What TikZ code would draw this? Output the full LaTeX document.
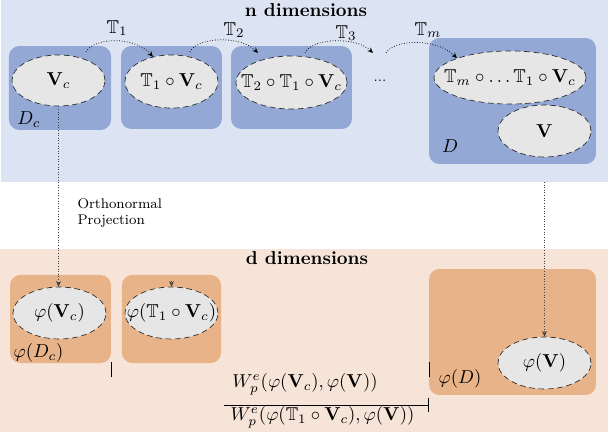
\documentclass[tikz,border=0pt]{standalone}
\usepackage{amsmath,amssymb}
\usetikzlibrary{shapes.geometric,arrows.meta,calc}
\definecolor{bandblue}{HTML}{DCE3F2}
\definecolor{boxblue}{HTML}{94A8D6}
\definecolor{ellgray}{HTML}{E6E6E6}
\definecolor{bandpeach}{HTML}{F6E4D8}
\definecolor{boxorange}{HTML}{E8B388}
\begin{document}
\begin{tikzpicture}[x=0.535pt,y=0.535pt,
  bluebox/.style={rectangle, rounded corners=5.5pt, fill=boxblue, inner sep=0pt},
  orangebox/.style={rectangle, rounded corners=5.5pt, fill=boxorange, inner sep=0pt},
  ell/.style={ellipse, fill=ellgray, draw=black!85, densely dashed, line width=0.35pt, inner sep=0pt},
  tarrow/.style={densely dotted, line width=0.4pt, -{Stealth[length=3pt,width=2.6pt]}},
  proj/.style={densely dotted, line width=0.4pt, draw=black!75, -{Stealth[length=3pt,width=2.6pt]}},
  tick/.style={line width=0.5pt},
  small/.style={font=\fontsize{7.5}{9}\selectfont},
  tight/.style={inner sep=0.5pt}
]
\useasboundingbox (0,0) rectangle (610,432);
\fill[bandblue] (1,250) rectangle (608,432);
\fill[bandpeach] (0,0) rectangle (608,183);

% titles
\node[anchor=base, font=\bfseries] (tn) at (306,415) {n dimensions};
\node[anchor=base, font=\bfseries] (td) at (307,168) {d dimensions};

% n-dimensional boxes
\node[bluebox, minimum width=54.6pt, minimum height=44.9pt] (b1) at (60,344) {};
\node[bluebox, minimum width=54pt, minimum height=44.4pt] (b2) at (171.5,344.5) {};
\node[bluebox, minimum width=64.7pt, minimum height=44.4pt] (b3) at (291.5,344.5) {};
\node[bluebox, minimum width=89.3pt, minimum height=67.4pt] (b4) at (512.5,331) {};

\node[ell, minimum width=49.8pt, minimum height=27.3pt, label={center:$\mathbf{V}_c$}] (e1) at (58.5,351.5) {};
\node[ell, minimum width=49.8pt, minimum height=28.4pt, label={center:$\mathbb{T}_1\circ\mathbf{V}_c$}] (e2) at (171.5,350.5) {};
\node[ell, minimum width=59.4pt, minimum height=28.4pt, label={center:$\mathbb{T}_2\circ\mathbb{T}_1\circ\mathbf{V}_c$}] (e3) at (291.5,349.5) {};
\node[ell, minimum width=81.3pt, minimum height=28.4pt, label={center:$\mathbb{T}_m\circ\ldots\mathbb{T}_1\circ\mathbf{V}_c$}] (e4) at (510,354.5) {};
\node[ell, minimum width=49.8pt, minimum height=27.8pt, label={center:$\mathbf{V}$}] (e5) at (544.5,301) {};

\node (dc) at (29,312) {$D_c$};
\node (dd) at (450,286) {$D$};
\node (dots) at (380,351) {\scriptsize ...};

% transformation arrows
\coordinate (s1) at (86,380);
\coordinate (s2) at (190,380);
\coordinate (t2) at (258,379);
\coordinate (s3) at (305,379);
\coordinate (t3) at (373,379);
\coordinate (s4) at (386,379);
\draw[tarrow] (s1) .. controls (94,395) and (135,396) .. (e2.127);
\draw[tarrow] (s2) .. controls (197,395) and (240,397) .. (t2);
\draw[tarrow] (s3) .. controls (312,394) and (355,396) .. (t3);
\draw[tarrow] (s4) .. controls (394,393) and (437,394) .. (e4.160);
\node[tight] (lt1) at (117,404) {$\mathbb{T}_1$};
\node[tight] (lt2) at (234,402) {$\mathbb{T}_2$};
\node[tight] (lt3) at (346,399) {$\mathbb{T}_3$};
\node[tight] (ltm) at (428,402) {$\mathbb{T}_m$};

% d-dimensional boxes
\node[orangebox, minimum width=54pt, minimum height=47.1pt] (o1) at (60.5,113) {};
\node[orangebox, minimum width=53pt, minimum height=47.1pt] (o2) at (171.5,113) {};
\node[orangebox, minimum width=89.3pt, minimum height=67.4pt] (o3) at (512.5,100) {};

\node[ell, minimum width=49.8pt, minimum height=27.8pt, label={center:$\varphi(\mathbf{V}_c)$}] (f1) at (59.5,119) {};
\node[ell, minimum width=49.8pt, minimum height=27.8pt, label={center:$\varphi(\mathbb{T}_1\circ\mathbf{V}_c)$}] (f2) at (171.5,119) {};
\node[ell, minimum width=49.8pt, minimum height=27.8pt, label={center:$\varphi(\mathbf{V})$}] (f3) at (544.5,69) {};

\node (pdc) at (38.5,79) {$\varphi(D_c)$};
\node (pd) at (460,53) {$\varphi(D)$};

% projections
\draw[proj] (e1.south) -- (e1.south |- f1.north);
\coordinate (r0) at (544.5,250);
\draw[proj] (r0) -- (f3.north);
\coordinate (f2t) at (171.5,151);
\draw[proj] (f2t) -- (f2.north);
\node[small, anchor=west, align=left] (projlbl) at (71,219) {Orthonormal\\Projection};

% ratio
\draw[tick] (111,55) -- (111,70);
\draw[tick] (429,55) -- (429,70);
\draw[line width=0.5pt, -{Bar[width=8pt]}] (224,27) -- (429,27);
\node[tight] (num) at (305,48) {$W_p^e(\varphi(\mathbf{V}_c),\varphi(\mathbf{V}))$};
\node[tight] (den) at (322.5,15) {$W_p^e(\varphi(\mathbb{T}_1\circ\mathbf{V}_c),\varphi(\mathbf{V}))$};
\end{tikzpicture}
\end{document}
